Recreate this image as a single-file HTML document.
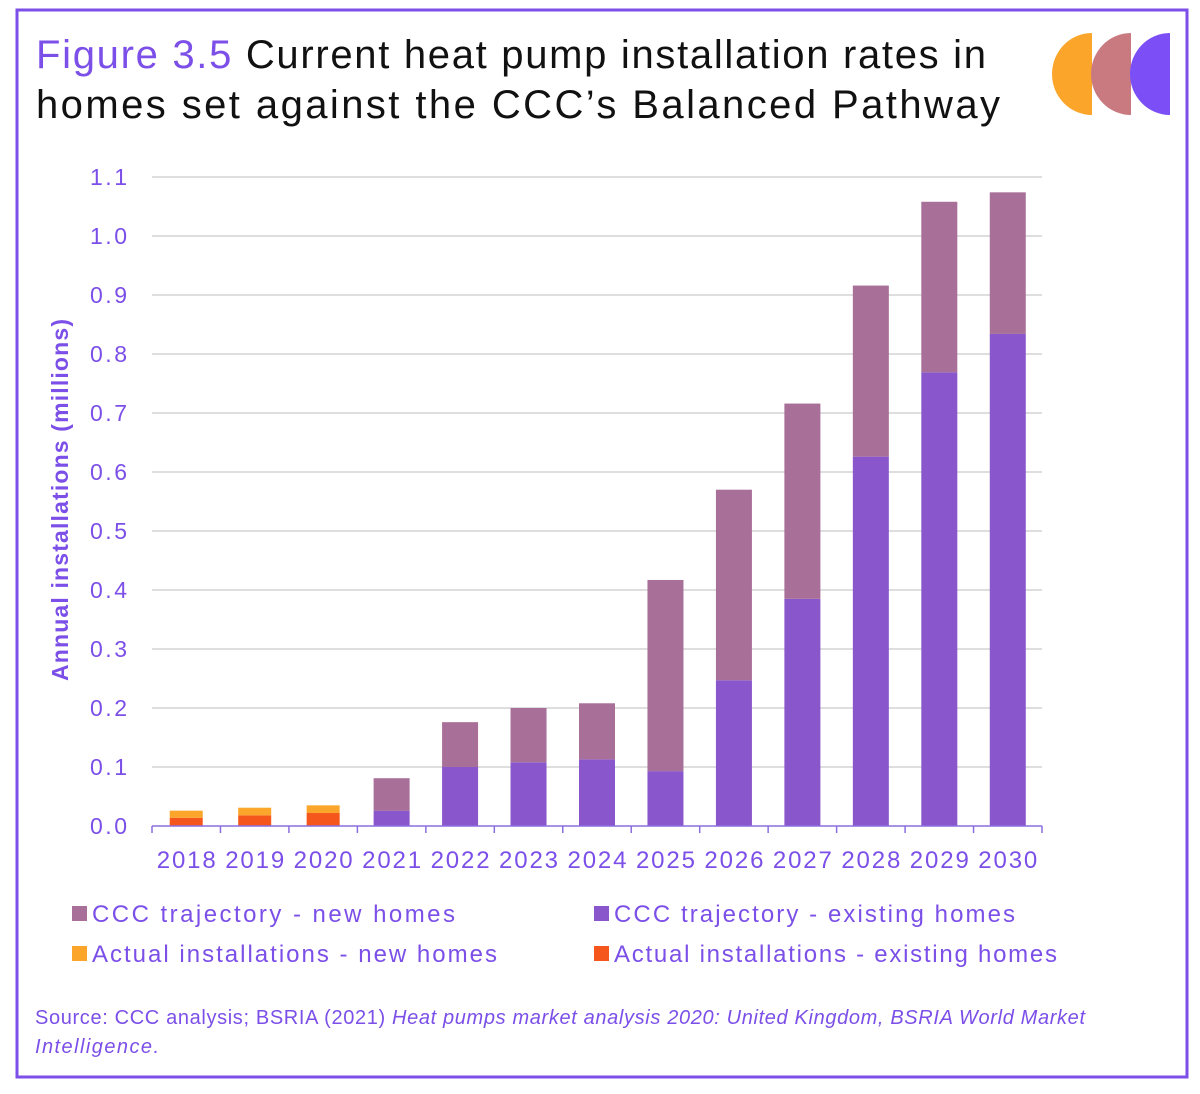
<!DOCTYPE html>
<html><head><meta charset="utf-8"><style>
html,body{margin:0;padding:0;background:#fff;width:1200px;height:1094px;overflow:hidden}
svg text{font-family:"Liberation Sans",sans-serif}
</style></head><body>
<svg width="1200" height="1094">
<rect x="17" y="10" width="1170" height="1067" fill="none" stroke="#7b4fe8" stroke-width="3"/>
<text x="36" y="68" font-size="40" textLength="950" lengthAdjust="spacing"><tspan fill="#7b4fe8">Figure 3.5</tspan><tspan fill="#111"> Current heat pump installation rates in</tspan></text>
<text x="36" y="118" font-size="40" fill="#111" textLength="964" lengthAdjust="spacing">homes set against the CCC’s Balanced Pathway</text>
<g>
<path d="M1092 33 A40 41 0 0 0 1092 115 Z" fill="#fba62a"/>
<path d="M1131 33 A40 41 0 0 0 1131 115 Z" fill="#c97a80"/>
<path d="M1170 33 A40 41 0 0 0 1170 115 Z" fill="#7b4ff5"/>
</g>
<g id="grid"></g>
<g id="bars"></g>
<g id="axes"></g>
<text transform="translate(68,500) rotate(-90)" text-anchor="middle" font-size="23" font-weight="bold" fill="#7b4fe8" textLength="362" lengthAdjust="spacing">Annual installations (millions)</text>
<g font-size="24" fill="#7b4fe8">
<rect x="72" y="906" width="15" height="15" fill="#a86f98"/>
<text x="92" y="922" textLength="363" lengthAdjust="spacing">CCC trajectory - new homes</text>
<rect x="594" y="906" width="15" height="15" fill="#8a56cc"/>
<text x="614" y="922" textLength="401" lengthAdjust="spacing">CCC trajectory - existing homes</text>
<rect x="72" y="946" width="15" height="15" fill="#fba62a"/>
<text x="92" y="962" textLength="405" lengthAdjust="spacing">Actual installations - new homes</text>
<rect x="594" y="946" width="15" height="15" fill="#f4561c"/>
<text x="614" y="962" textLength="443" lengthAdjust="spacing">Actual installations - existing homes</text>
</g>
<text x="35" y="1024" font-size="20" fill="#7b4fe8" textLength="1050" lengthAdjust="spacing">Source: CCC analysis; BSRIA (2021) <tspan font-style="italic">Heat pumps market analysis 2020: United Kingdom, BSRIA World Market</tspan></text>
<text x="35" y="1053" font-size="20" fill="#7b4fe8" font-style="italic" textLength="124" lengthAdjust="spacing">Intelligence.</text>
</svg>
<script>
const years=["2018","2019","2020","2021","2022","2023","2024","2025","2026","2027","2028","2029","2030"];
const actualExisting=[0.014,0.018,0.022,0,0,0,0,0,0,0,0,0,0];
const actualNew=[0.012,0.013,0.013,0,0,0,0,0,0,0,0,0,0];
const cccExisting=[0,0,0,0.026,0.100,0.108,0.113,0.093,0.247,0.385,0.626,0.769,0.834];
const cccNew=[0,0,0,0.055,0.076,0.092,0.095,0.324,0.323,0.331,0.290,0.289,0.240];
const yTicks=["0.0","0.1","0.2","0.3","0.4","0.5","0.6","0.7","0.8","0.9","1.0","1.1"];
const NS="http://www.w3.org/2000/svg";
const x0=152,x1=1042,yb=826,yt=177,ymax=1.1;
const step=(x1-x0)/years.length;
const ys=v=>yb-(v/ymax)*(yb-yt);
const xc=i=>x0+step*(i+0.5);
function mk(tag,attrs,parent){const e=document.createElementNS(NS,tag);for(const k in attrs)e.setAttribute(k,attrs[k]);parent.appendChild(e);return e;}
const grid=document.getElementById('grid'),bars=document.getElementById('bars'),axes=document.getElementById('axes');
yTicks.forEach((t,i)=>{const v=parseFloat(t);const y=ys(v);
 if(v>0){const l=mk('line',{x1:x0,x2:x1,y1:y,y2:y,stroke:'#bdbdbd','stroke-width':1},grid);
 
 }
 const tx=mk('text',{x:127,y:y+8,'text-anchor':'end','font-size':23,fill:'#7b4fe8',textLength:37,lengthAdjust:'spacing'},axes);tx.textContent=t;
 
 });
const ax=mk('line',{x1:x0,x2:x1,y1:yb,y2:yb,stroke:'#8a6ee0','stroke-width':1.5},axes);


for(let i=0;i<=years.length;i++){const x=x0+step*i;const tk=mk('line',{x1:x,x2:x,y1:yb,y2:yb+7,stroke:'#8a6ee0','stroke-width':1.5},axes);
 
 }
years.forEach((yr,i)=>{const t=mk('text',{x:xc(i),y:868,'text-anchor':'middle','font-size':24,fill:'#7b4fe8',textLength:59,lengthAdjust:'spacing'},axes);t.textContent=yr;
 
 
 function seg(base,val,col,name,w){if(val<=0)return;const r=mk('rect',{x:xc(i)-w/2,y:ys(base+val),width:w,height:ys(base)-ys(base+val),fill:col},bars);
  
  }
 seg(0,actualExisting[i],'#f4561c','bar-actual-existing-'+yr,33);
 seg(actualExisting[i],actualNew[i],'#fba62a','bar-actual-new-'+yr,33);
 seg(0,cccExisting[i],'#8a56cc','bar-ccc-existing-'+yr,36);
 seg(cccExisting[i],cccNew[i],'#a86f98','bar-ccc-new-'+yr,36);
});
</script>
</body></html>
